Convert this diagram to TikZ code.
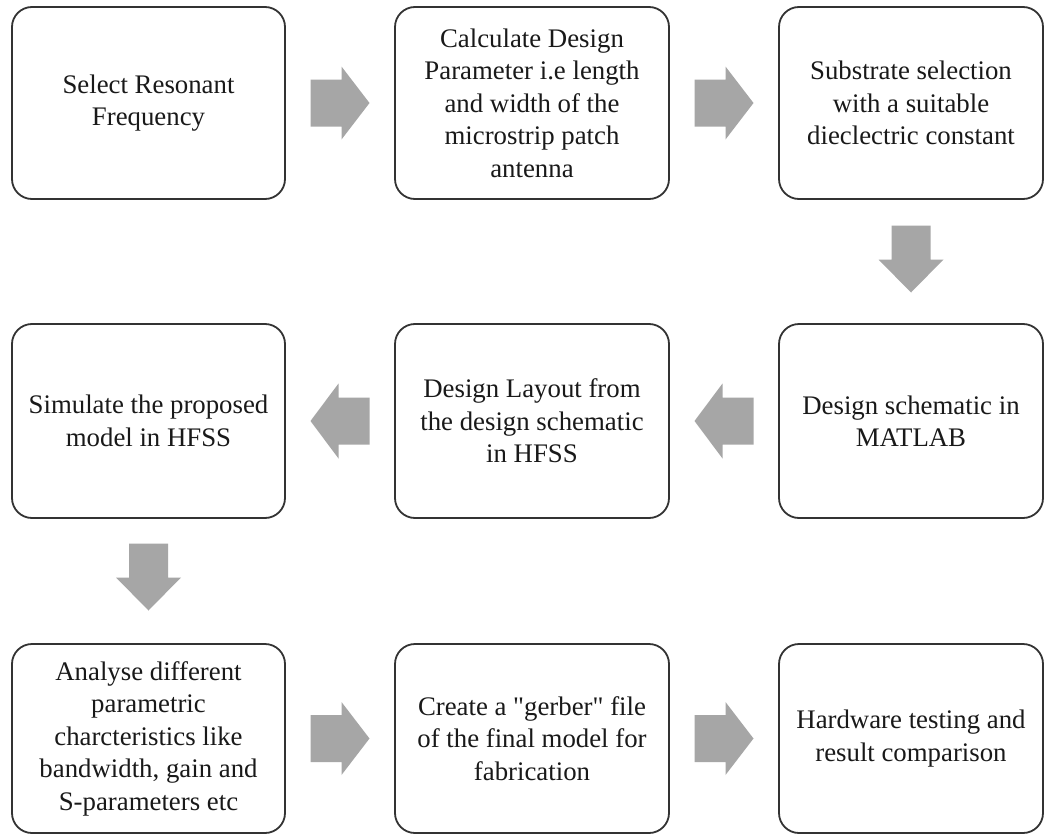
\documentclass[tikz,border=0pt]{standalone}
\usepackage{fontspec}
\setmainfont{Liberation Serif}[Ligatures=TeXOff]
\usetikzlibrary{calc}
\begin{document}
\begin{tikzpicture}[x=1pt,y=-1pt,
  box/.style={draw=black!80, line width=1.8pt, rounded corners=20pt, fill=white,
    align=center, font=\fontsize{26.8}{32.5}\selectfont, text=black!90, inner sep=0pt},
  arrowfill/.style={fill=black!35, draw=none},
  rarr/.pic={\fill[arrowfill] (-29.5,-23.5) -- (1.5,-23.5) -- (1.5,-36.5) -- (29.5,0)
     -- (1.5,36.5) -- (1.5,23.5) -- (-29.5,23.5) -- cycle;},
  larr/.pic={\fill[arrowfill] (29.5,-23.5) -- (-1.5,-23.5) -- (-1.5,-37.5) -- (-29.5,0)
     -- (-1.5,37.5) -- (-1.5,23.5) -- (29.5,23.5) -- cycle;},
  darr/.pic={\fill[arrowfill] (-19.5,-33.5) -- (19.5,-33.5) -- (19.5,0.5) -- (32.5,0.5)
     -- (0,33.5) -- (-32.5,0.5) -- (-19.5,0.5) -- cycle;}
]
\useasboundingbox (0,0) rectangle (1045,835);
\fill[white] (0,0) rectangle (1045,835);
% row 1
\node[box, minimum width=273pt, minimum height=192pt] (b1) at (148.5,103)
  {Select Resonant\\Frequency};
\node[box, minimum width=274pt, minimum height=192pt] (b2) at (532,103)
  {Calculate Design\\Parameter i.e length\\and width of the\\microstrip patch\\antenna};
\node[box, minimum width=264pt, minimum height=192pt] (b3) at (911,103)
  {Substrate selection\\with a suitable\\dieclectric constant};
% row 2
\node[box, minimum width=273pt, minimum height=194pt] (b4) at (148.5,421)
  {Simulate the proposed\\model in HFSS};
\node[box, minimum width=274pt, minimum height=194pt] (b5) at (532,421)
  {Design Layout from\\the design schematic\\in HFSS};
\node[box, minimum width=264pt, minimum height=194pt] (b6) at (911,421)
  {Design schematic in\\MATLAB};
% row 3
\node[box, minimum width=273pt, minimum height=189pt] (b7) at (148.5,738.5)
  {Analyse different\\parametric\\charcteristics like\\bandwidth, gain and\\S-parameters etc};
\node[box, minimum width=274pt, minimum height=189pt] (b8) at (532,738.5)
  {Create a "gerber" file\\of the final model for\\fabrication};
\node[box, minimum width=264pt, minimum height=189pt] (b9) at (911,738.5)
  {Hardware testing and\\result comparison};
% arrows
\path ($(b1.east)!0.5!(b2.west)$) pic {rarr};
\path ($(b2.east)!0.5!(b3.west)$) pic {rarr};
\path ($(b3.south)!0.5!(b6.north)+(0,-2.5)$) pic {darr};
\path ($(b6.west)!0.5!(b5.east)$) pic {larr};
\path ($(b5.west)!0.5!(b4.east)$) pic {larr};
\path ($(b4.south)!0.5!(b7.north)+(0,-4)$) pic {darr};
\path ($(b7.east)!0.5!(b8.west)$) pic {rarr};
\path ($(b8.east)!0.5!(b9.west)$) pic {rarr};
\end{tikzpicture}
\end{document}
